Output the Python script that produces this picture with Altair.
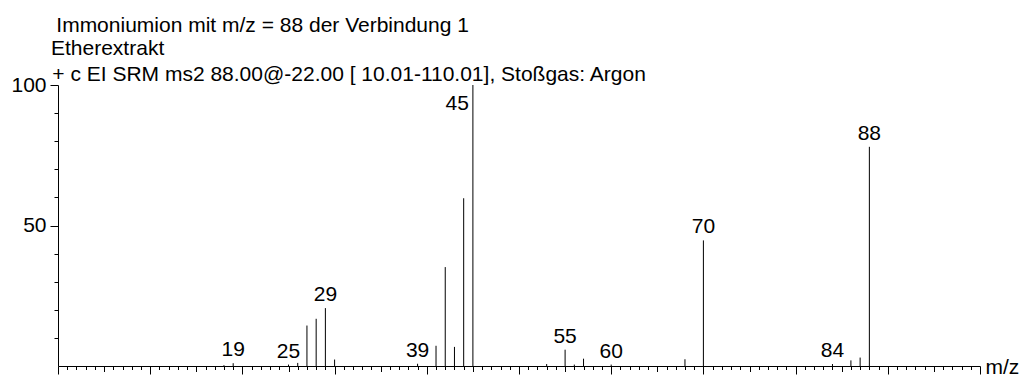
import altair as alt
import pandas as pd

# ---- data ----
mz = [18, 19, 25, 26, 27, 28, 29, 30, 39, 41, 42, 43, 44, 45,
      53, 55, 56, 57, 60, 68, 70, 84, 86, 87, 88]
intensity = [0.3, 1.0, 0.5, 1.1, 14.4, 16.8, 20.6, 2.3, 0.8, 7.2, 35.2, 6.8, 59.7, 100.0,
             0.7, 5.8, 0.5, 2.6, 0.5, 2.4, 44.7, 0.7, 2.0, 3.0, 78.0]
labeled_mz = [19, 25, 29, 39, 55, 60, 70, 84, 88]   # labels above peaks
side_labeled_mz = [45]                                # label at left of peak top

header_lines = [
    "Immoniumion mit m/z = 88 der Verbindung 1",
    "Etherextrakt",
    "+ c EI SRM ms2 88.00@-22.00 [ 10.01-110.01], Stoßgas: Argon",
]
x_ticks = list(range(0, 101))
y_ticks = list(range(10, 101, 10))

FONT = "Liberation Sans"
FS = 21

df = pd.DataFrame({"mz": mz, "intensity": intensity})
df["lab"] = df["mz"].isin(labeled_mz)
df["side"] = df["mz"].isin(side_labeled_mz)

x_scale = alt.Scale(domain=[0, 100], nice=False, zero=False)
y_scale = alt.Scale(domain=[0, 100], nice=False)

x_axis = alt.Axis(
    values=x_ticks,
    labels=False,
    grid=False,
    domainColor="black",
    tickColor="black",
    tickSize={
        "condition": [
            {"test": "datum.value % 10 === 0", "value": 8},
            {"test": "datum.value % 5 === 0", "value": 5.5},
        ],
        "value": 3.5,
    },
    title="m/z",
    titleX=927,
    titleY=7,
    titleAlign="left",
    titleBaseline="alphabetic",
    titleAngle=0,
    titleFont=FONT,
    titleFontSize=FS,
    titleFontWeight="normal",
    titleColor="black",
)
y_axis = alt.Axis(
    values=y_ticks,
    grid=False,
    domainColor="black",
    tickColor="black",
    tickSize={"condition": {"test": "datum.value % 50 === 0", "value": 8}, "value": 4},
    labelExpr="(datum.value == 50 || datum.value == 100) ? datum.label : ''",
    labelFont=FONT,
    labelFontSize=FS,
    labelColor="black",
    labelPadding=4,
    labelOverlap=False,
    labelBound=False,
    title=None,
)

x_enc = alt.X("mz:Q", scale=x_scale, axis=x_axis)
y_enc = alt.Y("intensity:Q", scale=y_scale, axis=y_axis)

base = alt.Chart(df)

peaks = base.mark_rule(color="black", strokeWidth=1).encode(
    x=x_enc, y=y_enc, y2=alt.datum(0)
)

labels = base.transform_filter("datum.lab").mark_text(
    font=FONT, fontSize=FS, color="black", align="center",
    baseline="alphabetic", dy=-7
).encode(x=x_enc, y=y_enc, text=alt.Text("mz:Q", format="d"))

side_labels = base.transform_filter("datum.side").mark_text(
    font=FONT, fontSize=FS, color="black", align="right",
    baseline="alphabetic", dx=-4, dy=25
).encode(x=x_enc, y=y_enc, text=alt.Text("mz:Q", format="d"))

one = alt.Data(values=[{}])
header_pos = [(-1.7, -53.3), (-7, -30), (-5.7, -4)]
headers = [
    alt.Chart(one).mark_text(
        text=t, font=FONT, fontSize=FS, color="black",
        align="left", baseline="alphabetic"
    ).encode(x=alt.value(px), y=alt.value(py))
    for t, (px, py) in zip(header_lines, header_pos)
]

chart = alt.layer(peaks, labels, side_labels, *headers).properties(
    width=922,
    height=281,
    autosize=alt.AutoSizeParams(type="none"),
    padding={"left": 58, "top": 85, "right": 46, "bottom": 12},
    background="white",
).configure_view(stroke=None).configure_axis(
    domainWidth=1, tickWidth=1, labelOverlap=False
)

chart.save("out.html", embed_options={"renderer": "svg", "actions": False})
